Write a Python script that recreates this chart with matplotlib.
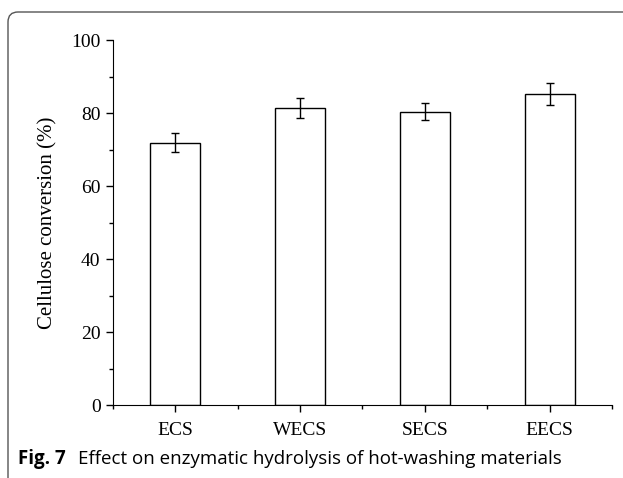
import matplotlib
matplotlib.use("Agg")
import matplotlib.pyplot as plt
from matplotlib.patches import FancyBboxPatch
from matplotlib.ticker import MultipleLocator, FixedLocator

samples = ["ECS", "WECS", "SECS", "EECS"]
conversion = [71.9, 81.4, 80.4, 85.1]
errors = [2.6, 2.8, 2.3, 3.0]

fig = plt.figure(figsize=(6.23, 4.78), dpi=100)
ax = fig.add_axes([0.1814, 0.1527, 0.8009, 0.7636])

pos = list(range(1, len(samples) + 1))
ax.bar(pos, conversion, width=0.4, color="white", edgecolor="black", linewidth=1.0)
ax.errorbar(pos, conversion, yerr=errors, fmt="none", ecolor="black",
            elinewidth=1.0, capsize=3, capthick=1.0)

ax.set_xlim(0.5, 4.5)
ax.set_ylim(0, 100)
ax.set_xticks(pos)
ax.set_xticklabels(samples, family="Liberation Serif", fontsize=14)
ax.xaxis.set_minor_locator(FixedLocator([0.5, 1.5, 2.5, 3.5, 4.5]))
ax.yaxis.set_major_locator(MultipleLocator(20))
ax.yaxis.set_minor_locator(MultipleLocator(10))
for lab in ax.get_yticklabels():
    lab.set_family("Liberation Serif")
    lab.set_fontsize(14)
ax.tick_params(which="major", direction="out", length=5, width=1.0, pad=4)
ax.tick_params(which="minor", direction="out", length=3, width=1.0)
ax.tick_params(axis="x", which="major", pad=7)
ax.spines["top"].set_visible(False)
ax.spines["right"].set_visible(False)
ax.set_ylabel("Cellulose conversion (%)", family="Liberation Serif", fontsize=15, labelpad=10)

# rounded frame (top-left corner visible only)
frame = FancyBboxPatch((0.08, -1.0), 8.0, 4.66 + 1.0,
                       boxstyle="round,pad=0,rounding_size=0.1",
                       transform=fig.dpi_scale_trans, facecolor="none",
                       edgecolor="#555555", linewidth=1.0, clip_on=False)
fig.patches.append(frame)

fig.text(0.029, 0.03, "Fig. 7", family="Open Sans", fontweight="bold", fontsize=13.5)
fig.text(0.125, 0.03, "Effect on enzymatic hydrolysis of hot-washing materials",
         family="Open Sans", fontsize=13.5)

fig.savefig("out.png", dpi=100)
